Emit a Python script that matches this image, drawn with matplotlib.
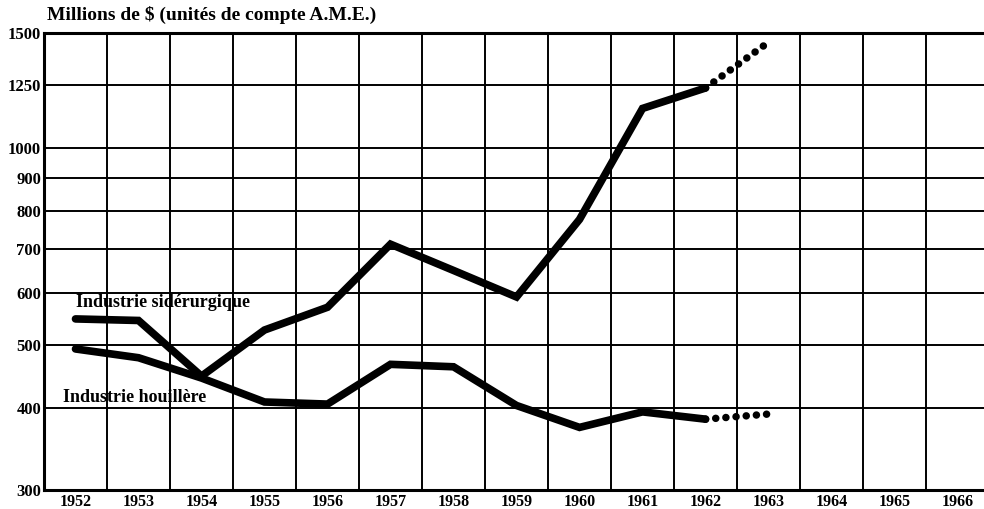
import matplotlib
matplotlib.use("Agg")
import matplotlib.pyplot as plt
from matplotlib.ticker import FixedLocator, NullLocator

years = [1952, 1953, 1954, 1955, 1956, 1957, 1958, 1959, 1960, 1961, 1962]
steel = [548, 545, 448, 527, 571, 713, 650, 592, 778, 1150, 1236]
coal = [493, 478, 445, 409, 406, 467, 463, 404, 374, 395, 385]
proj_years = [1962, 1963]
steel_proj = [1236, 1452]
coal_proj = [385, 392]

yticks = [300, 400, 500, 600, 700, 800, 900, 1000, 1250, 1500]
xtick_years = list(range(1952, 1967))
title = "Millions de $ (unités de compte A.M.E.)"
label_steel = "Industrie sidérurgique"
label_coal = "Industrie houillère"

plt.rcParams['font.family'] = ['Liberation Serif', 'DejaVu Serif']
plt.rcParams['font.weight'] = 'bold'

fig = plt.figure(figsize=(9.84, 5.09), dpi=100)
ax = fig.add_axes([44/984, 1-490/509, 1-44/984, (490-33)/509])

ax.set_yscale('log')
ax.set_ylim(300, 1500)
ax.set_xlim(1951.5, 1966.42)

ax.yaxis.set_major_locator(FixedLocator(yticks))
ax.yaxis.set_minor_locator(NullLocator())
ax.set_yticklabels([str(v) for v in yticks], fontsize=12, fontweight='bold')
ax.xaxis.set_major_locator(FixedLocator(xtick_years))
ax.set_xticklabels([str(v) for v in xtick_years], fontsize=11.5, fontweight='bold')
ax.xaxis.set_minor_locator(FixedLocator([y - 0.5 for y in xtick_years] + [1966.5]))
ax.tick_params(axis='both', which='both', length=0, pad=3)
ax.tick_params(axis='y', pad=2)

ax.grid(True, axis='y', which='major', color='black', linewidth=1.4)
ax.grid(True, axis='x', which='minor', color='black', linewidth=1.4)
ax.grid(False, axis='x', which='major')

for s in ['left', 'bottom', 'top']:
    ax.spines[s].set_linewidth(2.2)
ax.spines['right'].set_visible(False)

lw = 5.5
ax.plot(years, steel, color='black', linewidth=lw, solid_capstyle='round', solid_joinstyle='miter')
ax.plot(years, coal, color='black', linewidth=lw, solid_capstyle='round', solid_joinstyle='miter')
ax.plot(proj_years, steel_proj, color='black', linewidth=5.4, linestyle=(0, (0.01, 1.35)),
        dash_capstyle='round')
ax.plot(proj_years, coal_proj, color='black', linewidth=5.4, linestyle=(0, (0.01, 1.35)),
        dash_capstyle='round')

ax.text(1952.0, 580, label_steel, fontsize=13, fontweight='bold', ha='left', va='center')
ax.text(1951.8, 416, label_coal, fontsize=13, fontweight='bold', ha='left', va='center')

fig.text(47/984, 1-15/509, title, fontsize=14, fontweight='bold', ha='left', va='center')

fig.savefig('out.png', dpi=100)
